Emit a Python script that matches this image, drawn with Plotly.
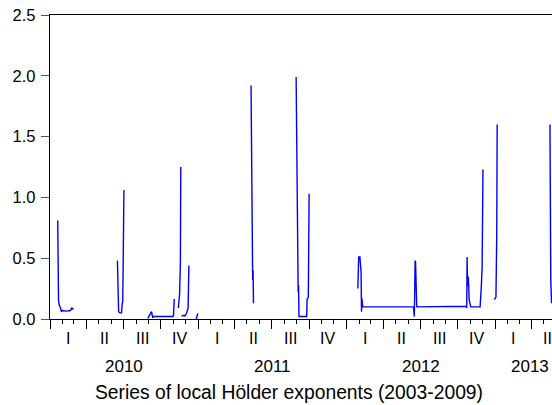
import plotly.graph_objects as go

# ---- data: segments of the local Hölder exponent series (gaps between segments) ----
seg_a_dates = ["2010-01-20", "2010-01-21", "2010-01-22", "2010-01-24", "2010-01-27", "2010-01-29",
               "2010-02-01", "2010-02-10", "2010-02-20", "2010-02-24", "2010-02-26", "2010-02-27"]
seg_a_vals = [0.81, 0.30, 0.15, 0.11, 0.09, 0.06, 0.07, 0.065, 0.07, 0.09, 0.08, 0.09]

seg_b_dates = ["2010-06-16", "2010-06-17", "2010-06-18", "2010-06-19", "2010-06-22", "2010-06-26",
               "2010-06-28", "2010-06-29", "2010-06-30", "2010-07-02"]
seg_b_vals = [0.48, 0.15, 0.08, 0.06, 0.05, 0.05, 0.13, 0.14, 0.40, 1.06]

seg_c_dates = ["2010-08-30", "2010-09-06", "2010-09-08", "2010-09-11", "2010-09-12", "2010-09-16",
               "2010-10-31", "2010-11-01", "2010-11-02", "2010-11-03"]
seg_c_vals = [0.005, 0.045, 0.06, 0.01, 0.02, 0.02, 0.02, 0.03, 0.08, 0.165]

seg_d_dates = ["2010-11-13", "2010-11-16", "2010-11-18", "2010-11-19"]
seg_d_vals = [0.09, 0.20, 0.45, 1.25]

seg_e_dates = ["2010-11-21", "2010-11-27", "2010-11-29", "2010-12-03", "2010-12-07", "2010-12-09"]
seg_e_vals = [0.025, 0.03, 0.025, 0.045, 0.09, 0.44]

seg_f_dates = ["2010-12-27", "2010-12-29", "2010-12-31"]
seg_f_vals = [0.0, 0.02, 0.045]

seg_g_dates = ["2011-05-11", "2011-05-12", "2011-05-13", "2011-05-14", "2011-05-15", "2011-05-16", "2011-05-17"]
seg_g_vals = [1.92, 1.20, 0.70, 0.40, 0.32, 0.40, 0.13]

seg_h_dates = ["2011-08-30", "2011-09-02", "2011-09-03", "2011-09-04", "2011-09-05", "2011-09-06",
               "2011-09-25", "2011-09-26", "2011-09-29", "2011-10-01"]
seg_h_vals = [1.99, 0.68, 0.27, 0.22, 0.28, 0.02, 0.02, 0.16, 0.18, 1.03]

seg_i_dates = ["2012-01-29", "2012-01-31", "2012-02-03", "2012-02-06", "2012-02-07", "2012-02-08",
               "2012-02-10", "2012-06-14", "2012-06-16", "2012-06-18", "2012-06-19", "2012-06-22",
               "2012-10-03", "2012-10-04", "2012-10-22", "2012-10-23", "2012-10-24", "2012-10-25",
               "2012-10-27", "2012-10-29", "2012-11-02", "2012-11-25", "2012-11-28", "2012-11-30",
               "2012-12-02"]
seg_i_vals = [0.25, 0.51, 0.51, 0.38, 0.06, 0.17,
              0.10, 0.10, 0.02, 0.48, 0.47, 0.10,
              0.10, 0.105, 0.105, 0.09, 0.51, 0.27,
              0.35, 0.16, 0.10, 0.10, 0.27, 0.43,
              1.23]

seg_j_dates = ["2012-12-30", "2013-01-03", "2013-01-05", "2013-01-06"]
seg_j_vals = [0.16, 0.18, 0.70, 1.60]

seg_k_dates = ["2013-05-16", "2013-05-17", "2013-05-18", "2013-05-20"]
seg_k_vals = [1.60, 0.70, 0.32, 0.13]

segments = [
    (seg_a_dates, seg_a_vals), (seg_b_dates, seg_b_vals), (seg_c_dates, seg_c_vals),
    (seg_d_dates, seg_d_vals), (seg_e_dates, seg_e_vals), (seg_f_dates, seg_f_vals),
    (seg_g_dates, seg_g_vals), (seg_h_dates, seg_h_vals), (seg_i_dates, seg_i_vals),
    (seg_j_dates, seg_j_vals), (seg_k_dates, seg_k_vals),
]

# ---- axis labels ----
quarter_labels = ["I", "II", "III", "IV",
                  "I", "II", "III", "IV",
                  "I", "II", "III", "IV",
                  "I", "II"]
quarter_positions = ["2010-02-15", "2010-05-16", "2010-08-16", "2010-11-15",
                     "2011-02-15", "2011-05-16", "2011-08-16", "2011-11-15",
                     "2012-02-15", "2012-05-16", "2012-08-16", "2012-11-15",
                     "2013-02-15", "2013-05-09"]
year_labels = ["2010", "2011", "2012", "2013"]
year_positions = ["2010-07-02", "2011-07-02", "2012-07-02", "2013-03-28"]
x_title = "Series of local Hölder exponents (2003-2009)"

# ---- build trace ----
xs, ys = [], []
for d, v in segments:
    if xs:
        xs.append(None)
        ys.append(None)
    xs.extend(d)
    ys.extend(v)

FONT = "Liberation Sans, Arial, sans-serif"

fig = go.Figure()
fig.add_trace(go.Scatter(x=xs, y=ys, mode="lines", connectgaps=False,
                         line=dict(color="#0000FF", width=1.4), showlegend=False,
                         hoverinfo="skip"))

annotations = []
for lab, pos in zip(quarter_labels, quarter_positions):
    annotations.append(dict(x=pos, xref="x", y=-0.064, yref="paper", text=lab, showarrow=False,
                            xanchor="center", yanchor="middle",
                            font=dict(family=FONT, size=16, color="black")))
for lab, pos in zip(year_labels, year_positions):
    annotations.append(dict(x=pos, xref="x", y=-0.155, yref="paper", text=lab, showarrow=False,
                            xanchor="center", yanchor="middle",
                            font=dict(family=FONT, size=17, color="black")))
annotations.append(dict(x=(289 - 50) / (552 - 50), xref="x domain", y=-0.243, yref="paper",
                        text=x_title, showarrow=False, xanchor="center", yanchor="middle",
                        font=dict(family=FONT, size=19.3, color="black")))

fig.update_layout(
    width=552, height=405,
    margin=dict(l=50, r=0, t=15, b=86, pad=0),
    paper_bgcolor="white", plot_bgcolor="white",
    annotations=annotations,
    xaxis=dict(
        type="date", range=["2010-01-01", "2013-05-21"],
        tickmode="linear", tick0="2010-01-01", dtick="M3",
        ticks="outside", ticklen=9, tickwidth=1, tickcolor="black",
        showticklabels=False, showgrid=False, zeroline=False,
        showline=True, linecolor="black", linewidth=1.3, mirror=True,
        minor=dict(tick0="2010-01-01", dtick="M1", ticks="outside", ticklen=4,
                   tickwidth=1, tickcolor="black", showgrid=False),
    ),
    yaxis=dict(
        range=[0, 2.5], tickmode="linear", tick0=0, dtick=0.5, tickformat=".1f",
        ticks="outside", ticklen=8, tickwidth=1, tickcolor="#555",
        ticklabelstandoff=2,
        tickfont=dict(family=FONT, size=16.5, color="black"),
        showgrid=False, zeroline=False,
        showline=True, linecolor="black", linewidth=1.3, mirror=False,
    ),
)

fig.write_html("out.html")
